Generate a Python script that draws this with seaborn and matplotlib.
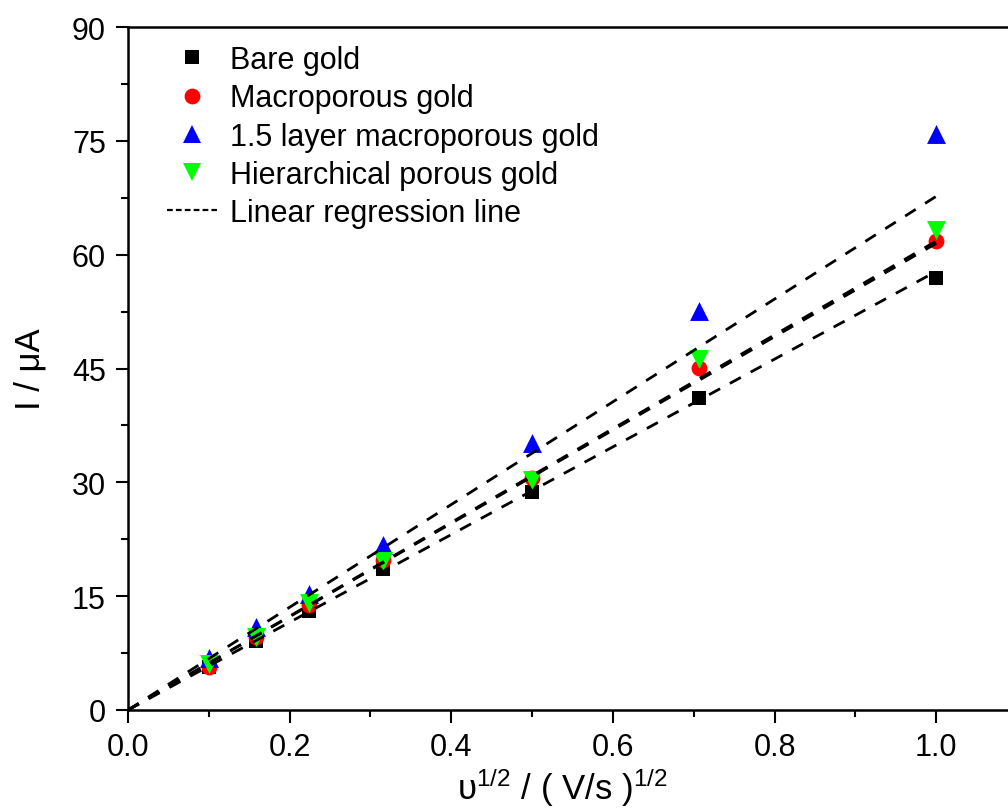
import numpy as np
import pandas as pd
import matplotlib
matplotlib.use("Agg")
import matplotlib.pyplot as plt
from matplotlib.ticker import MultipleLocator, FormatStrFormatter
from matplotlib.lines import Line2D
import seaborn as sns

sns.set_theme(style="white")
plt.rcParams['font.family'] = ['Liberation Sans', 'DejaVu Sans']
plt.rcParams['mathtext.default'] = 'regular'
plt.rcParams['text.color'] = 'black'
plt.rcParams['axes.labelcolor'] = 'black'

# ---- data ----
sqrt_scan = [0.1, 0.158, 0.224, 0.316, 0.5, 0.707, 1.0]
series_names = ["Bare gold", "Macroporous gold", "1.5 layer macroporous gold", "Hierarchical porous gold"]
bare_gold = [5.7, 9.1, 13.0, 18.6, 28.7, 41.1, 56.9]
macroporous = [5.7, 9.6, 13.8, 19.8, 30.6, 45.1, 61.8]
layer15 = [6.8, 10.9, 15.3, 21.8, 35.2, 52.6, 75.9]
hierarchical = [6.0, 9.6, 14.1, 19.6, 30.3, 46.3, 63.3]
fit_slopes = [57.8, 61.5, 67.7, 61.8]
fit_x = [0.0, 1.0]

colors = ["#000000", "#ff0000", "#0000ff", "#00ff00"]
markers = ["s", "o", "^", "v"]
msizes = [100, 130, 185, 185]

rows = []
for name, vals in zip(series_names, [bare_gold, macroporous, layer15, hierarchical]):
    for x, y in zip(sqrt_scan, vals):
        rows.append({"x": x, "y": y, "series": name})
df = pd.DataFrame(rows)

fig = plt.figure(figsize=(10.08, 8.12), dpi=100)
ax = fig.add_axes([0.127, 0.1244, 0.882, 0.841])

# regression lines
for slope in fit_slopes:
    fx = np.array(fit_x)
    ax.plot(fx, slope * fx, color="black", lw=2.0, dashes=(4.5, 4), zorder=3)

for name, c, m, s in zip(series_names, colors, markers, msizes):
    sub = df[df["series"] == name]
    sns.scatterplot(data=sub, x="x", y="y", color=c, marker=m, s=s,
                    linewidth=0, ax=ax, zorder=2, legend=False)

ax.set_xlim(0, 1.1)
ax.set_ylim(0, 90)
ax.xaxis.set_major_locator(MultipleLocator(0.2))
ax.xaxis.set_minor_locator(MultipleLocator(0.1))
ax.yaxis.set_major_locator(MultipleLocator(15))
ax.yaxis.set_minor_locator(MultipleLocator(7.5))
ax.xaxis.set_major_formatter(FormatStrFormatter('%.1f'))
ax.tick_params(which='major', direction='out', length=9, width=1.5, labelsize=22,
               bottom=True, left=True, top=False, right=False, pad=7,
               colors='black', labelcolor='black')
ax.tick_params(which='minor', direction='out', length=5, width=1.5,
               bottom=True, left=True, top=False, right=False, colors='black')
for sp in ax.spines.values():
    sp.set_linewidth(1.8)
    sp.set_color('black')

ax.set_xlabel(r'υ$^{1/2}$ / ( V/s )$^{1/2}$', fontsize=25)
ax.xaxis.set_label_coords(0.488, -0.081)
ax.set_ylabel('I / μA', fontsize=25, labelpad=18)

handles = [Line2D([], [], ls='none', marker=m, color=c,
                  markersize=np.sqrt(s), markeredgewidth=0)
           for m, c, s in zip(markers, colors, msizes)]
handles.append(Line2D([], [], color='black', lw=1.6, dashes=(2.6, 1.4)))
labels = series_names + ["Linear regression line"]
ax.legend(handles, labels, loc='upper left', frameon=False, fontsize=22,
          bbox_to_anchor=(0.1657, 0.9433), bbox_transform=fig.transFigure,
          handlelength=1.65, handletextpad=0.4, labelspacing=0.27,
          borderaxespad=0, borderpad=0)

fig.savefig("out.png", dpi=100)
